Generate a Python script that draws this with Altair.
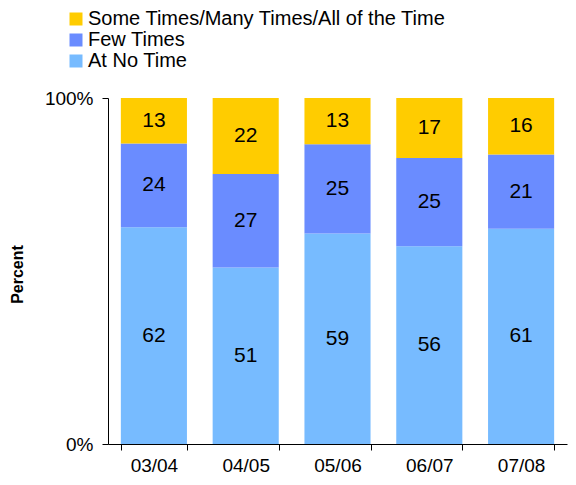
import altair as alt
import pandas as pd

years = ["03/04", "04/05", "05/06", "06/07", "07/08"]
at_no_time = [62, 51, 59, 56, 61]
few_times = [24, 27, 25, 25, 21]
some_times = [13, 22, 13, 17, 16]

series = ["Some Times/Many Times/All of the Time", "Few Times", "At No Time"]
colors = ["#FFCC00", "#6A8CFF", "#77BBFF"]

rows = []
for i, y in enumerate(years):
    rows.append({"year": y, "series": "At No Time", "value": at_no_time[i], "ord": 0})
    rows.append({"year": y, "series": "Few Times", "value": few_times[i], "ord": 1})
    rows.append({"year": y, "series": series[0], "value": some_times[i], "ord": 2})
df = pd.DataFrame(rows)

FONT = "Liberation Sans"

base = alt.Chart(df).transform_stack(
    stack="value", as_=["y0", "y1"], groupby=["year"],
    sort=[alt.SortField("ord", order="ascending")], offset="normalize"
).transform_calculate(mid="(datum.y0 + datum.y1) / 2")

xenc = alt.X("year:N", sort=years, title=None,
             scale=alt.Scale(paddingInner=0.28, paddingOuter=0.14),
             axis=alt.Axis(tickBand="extent", labelAngle=0, labelFontSize=19,
                           labelFont=FONT, labelColor="black", labelPadding=6,
                           domainColor="black", tickColor="black", tickSize=6))

bars = base.mark_bar().encode(
    x=xenc,
    y=alt.Y("y0:Q", scale=alt.Scale(domain=[0, 1]),
            axis=alt.Axis(values=[0, 1], format="%", title="Percent", grid=False,
                          labelFontSize=19, labelFont=FONT, labelColor="black",
                          labelPadding=9, domainColor="black", tickColor="black",
                          tickSize=6, titleFont=FONT, titleFontSize=16,
                          titleFontWeight="bold", titleColor="black",
                          titleX=-91, titleY=176, titleAngle=270,
                          titleBaseline="middle", titleAlign="center")),
    y2="y1:Q",
    color=alt.Color("series:N",
                    scale=alt.Scale(domain=series, range=colors),
                    legend=alt.Legend(title=None, orient="none", legendX=-42, legendY=-89,
                                      symbolType="square", symbolSize=169,
                                      symbolStrokeWidth=0, labelFontSize=20,
                                      labelFont=FONT, labelColor="black",
                                      labelOffset=2, rowPadding=1, padding=0,
                                      labelLimit=0)),
)

text = base.mark_text(fontSize=21, font=FONT, color="black").encode(
    x=alt.X("year:N", sort=years),
    y=alt.Y("mid:Q"),
    text=alt.Text("value:Q"),
)

chart = alt.layer(bars, text).properties(
    width=459, height=346,
    autosize=alt.AutoSizeParams(type="none"),
    padding={"left": 100, "top": 90, "right": 1, "bottom": 33},
).configure_view(stroke=None)

chart.save("out.html", embed_options={"renderer": "svg", "actions": False})
